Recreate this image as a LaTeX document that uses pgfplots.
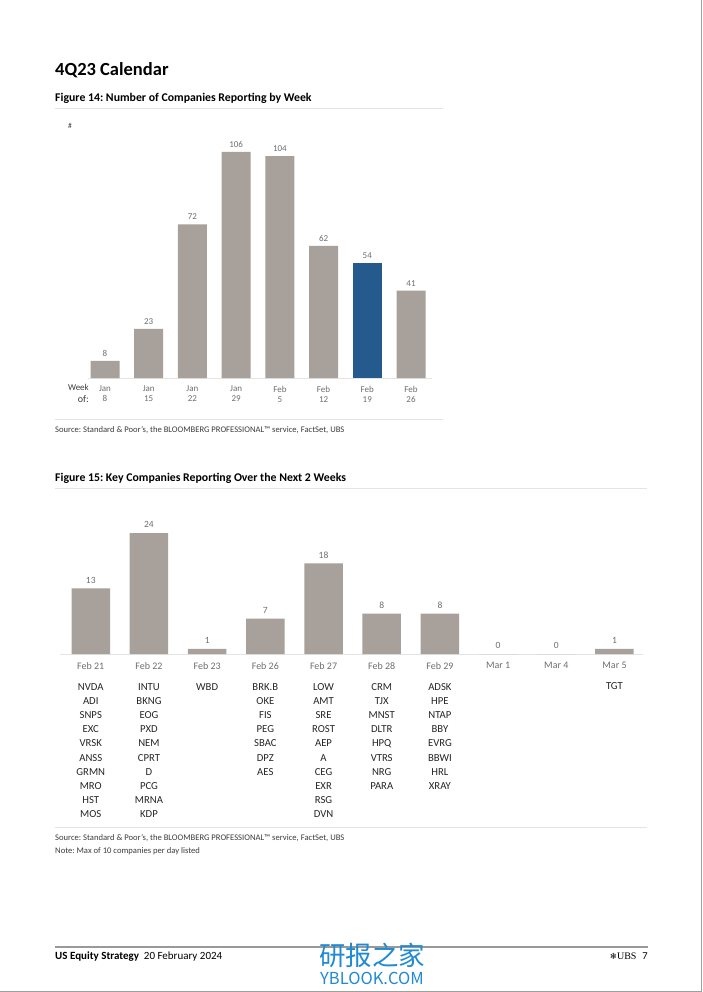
\documentclass[border=0pt]{standalone}
\usepackage{pgfplots}
\pgfplotsset{compat=1.18}
\usepackage{fontspec}
\setmainfont{Carlito}
\newfontfamily\cjk{Noto Sans CJK SC}
\newfontfamily\serifUBS{Liberation Serif}
\newfontfamily\dejavu{DejaVu Sans}
\definecolor{bargray}{RGB}{168,160,154}
\definecolor{ubsblue}{RGB}{36,90,140}
\definecolor{lblgray}{RGB}{110,110,110}
\definecolor{txtgray}{RGB}{60,60,60}
\definecolor{rulegray}{RGB}{228,228,228}
\definecolor{wmblue}{RGB}{32,138,210}
\newcommand\fs[2]{\fontsize{#1}{#2}\selectfont}

\begin{document}
\frenchspacing
\begin{tikzpicture}[x=1pt,y=-1pt]
\useasboundingbox (0,0) rectangle (702,992);
\fill[white] (0,0) rectangle (702,992);
\draw[gray!75, line width=1pt] (701.5,0) -- (701.5,991.5) -- (0,991.5);

% Titles
\node[anchor=base west, inner sep=0] at (55,76) {\fs{18.5}{19}\bfseries 4Q23 Calendar};
\node[anchor=base west, inner sep=0] at (55,102) {\fs{11.8}{12}\bfseries Figure 14: Number of Companies Reporting by Week};
\draw[rulegray, line width=0.7pt] (55,108) -- (443,108);
\node[text=txtgray, inner sep=0] at (70,126) {\fs{7.5}{7}\#};

% Figure 14
\begin{axis}[at={(88pt,-378pt)}, anchor=south west, scale only axis,
  width=344pt, height=255.9pt,
  xmin=-0.389, xmax=7.48, ymin=0, ymax=120,
  ybar, bar width=29pt, bar shift=0pt,
  axis x line*=bottom, axis y line=none,
  x axis line style={draw=rulegray, line width=0.8pt, -},
  xtick={0,1,2,3,4,5,6,7},
  xticklabels={{Jan\\8},{Jan\\15},{Jan\\22},{Jan\\29},{Feb\\5},{Feb\\12},{Feb\\19},{Feb\\26}},
  major tick length=0pt, xtick style={draw=none},
  xticklabel style={align=center, font=\fs{9}{10}, text=lblgray, yshift=-4.5pt},
  nodes near coords,
  nodes near coords style={font=\fs{9}{9}, text=lblgray, yshift=1pt},
  /pgf/number format/assume math mode=true,
  clip=false]
\addplot[fill=bargray, draw=none] coordinates {(0,8)(1,23)(2,72)(3,106)(4,104)(5,62)(7,41)};
\addplot[fill=ubsblue, draw=none] coordinates {(6,54)};
\end{axis}
\node[anchor=north east, align=right, text=txtgray, inner sep=0] at (89,384.5) {\fs{9}{10}Week\\of:};

\draw[rulegray, line width=0.7pt] (55,419) -- (443,419);
\node[anchor=base west, inner sep=0, text=txtgray] at (55,432) {\fs{8.6}{9}Source: Standard \& Poor's, the BLOOMBERG PROFESSIONAL™ service, FactSet, UBS};

% Figure 15
\node[anchor=base west, inner sep=0] at (55,481) {\fs{11.8}{12}\bfseries Figure 15: Key Companies Reporting Over the Next 2 Weeks};
\draw[rulegray, line width=0.7pt] (55,488) -- (647,488);

\begin{axis}[at={(60pt,-654pt)}, anchor=south west, scale only axis,
  width=583pt, height=136.1pt,
  xmin=-0.529, xmax=9.49, ymin=0, ymax=27,
  ybar, bar width=38.5pt, bar shift=0pt,
  axis x line*=bottom, axis y line=none,
  x axis line style={draw=rulegray, line width=0.8pt, -},
  xtick={0,1,2,3,4,5,6,7,8,9},
  xticklabels={
   {\textcolor{lblgray}{\fs{10}{14.2}Feb 21}\\[6.5pt]NVDA\\ADI\\SNPS\\EXC\\VRSK\\ANSS\\GRMN\\MRO\\HST\\MOS},
   {\textcolor{lblgray}{\fs{10}{14.2}Feb 22}\\[6.5pt]INTU\\BKNG\\EOG\\PXD\\NEM\\CPRT\\D\\PCG\\MRNA\\KDP},
   {\textcolor{lblgray}{\fs{10}{14.2}Feb 23}\\[6.5pt]WBD},
   {\textcolor{lblgray}{\fs{10}{14.2}Feb 26}\\[6.5pt]BRK.B\\OKE\\FIS\\PEG\\SBAC\\DPZ\\AES},
   {\textcolor{lblgray}{\fs{10}{14.2}Feb 27}\\[6.5pt]LOW\\AMT\\SRE\\ROST\\AEP\\A\\CEG\\EXR\\RSG\\DVN},
   {\textcolor{lblgray}{\fs{10}{14.2}Feb 28}\\[6.5pt]CRM\\TJX\\MNST\\DLTR\\HPQ\\VTRS\\NRG\\PARA},
   {\textcolor{lblgray}{\fs{10}{14.2}Feb 29}\\[6.5pt]ADSK\\HPE\\NTAP\\BBY\\EVRG\\BBWI\\HRL\\XRAY},
   {\textcolor{lblgray}{\fs{10}{14.2}Mar 1}},
   {\textcolor{lblgray}{\fs{10}{14.2}Mar 4}},
   {\textcolor{lblgray}{\fs{10}{14.2}Mar 5}\\[6.5pt]TGT}},
  major tick length=0pt, xtick style={draw=none},
  xticklabel style={align=center, anchor=north, font=\fs{10.7}{14.2}, text=black!85, yshift=-5pt},
  nodes near coords,
  nodes near coords style={font=\fs{9.5}{10}, text=lblgray, yshift=1.5pt},
  /pgf/number format/assume math mode=true,
  clip=false]
\addplot[fill=bargray, draw=none] coordinates {(0,13)(1,24)(2,1)(3,7)(4,18)(5,8)(6,8)(7,0)(8,0)(9,1)};
\end{axis}

\draw[rulegray, line width=0.7pt] (55,827) -- (647,827);
\node[anchor=base west, inner sep=0, text=txtgray] at (55,840) {\fs{8.6}{9}Source: Standard \& Poor's, the BLOOMBERG PROFESSIONAL™ service, FactSet, UBS};
\node[anchor=base west, inner sep=0, text=txtgray] at (55,853) {\fs{8.6}{9}Note: Max of 10 companies per day listed};

% Footer
\draw[gray!80, line width=1.2pt] (55,947) -- (648,947);
\node[anchor=base west, inner sep=0] at (55,959) {\fs{11}{11}\textbf{US Equity Strategy}\hspace{5pt}20 February 2024};
\node[anchor=base east, inner sep=0] at (648,959) {{\dejavu\fs{8.5}{8}❄}{\serifUBS\fs{10}{10}UBS}\hspace{6pt}{\fs{10.5}{10}7}};

% watermark
\node[anchor=west, inner sep=0, text=wmblue] at (319,955) {\cjk\fs{26.5}{26}研报之家};
\node[anchor=west, inner sep=0, text=wmblue] at (320,978) {\cjk\fs{16.5}{15}YBLOOK.COM};
\end{tikzpicture}
\end{document}
